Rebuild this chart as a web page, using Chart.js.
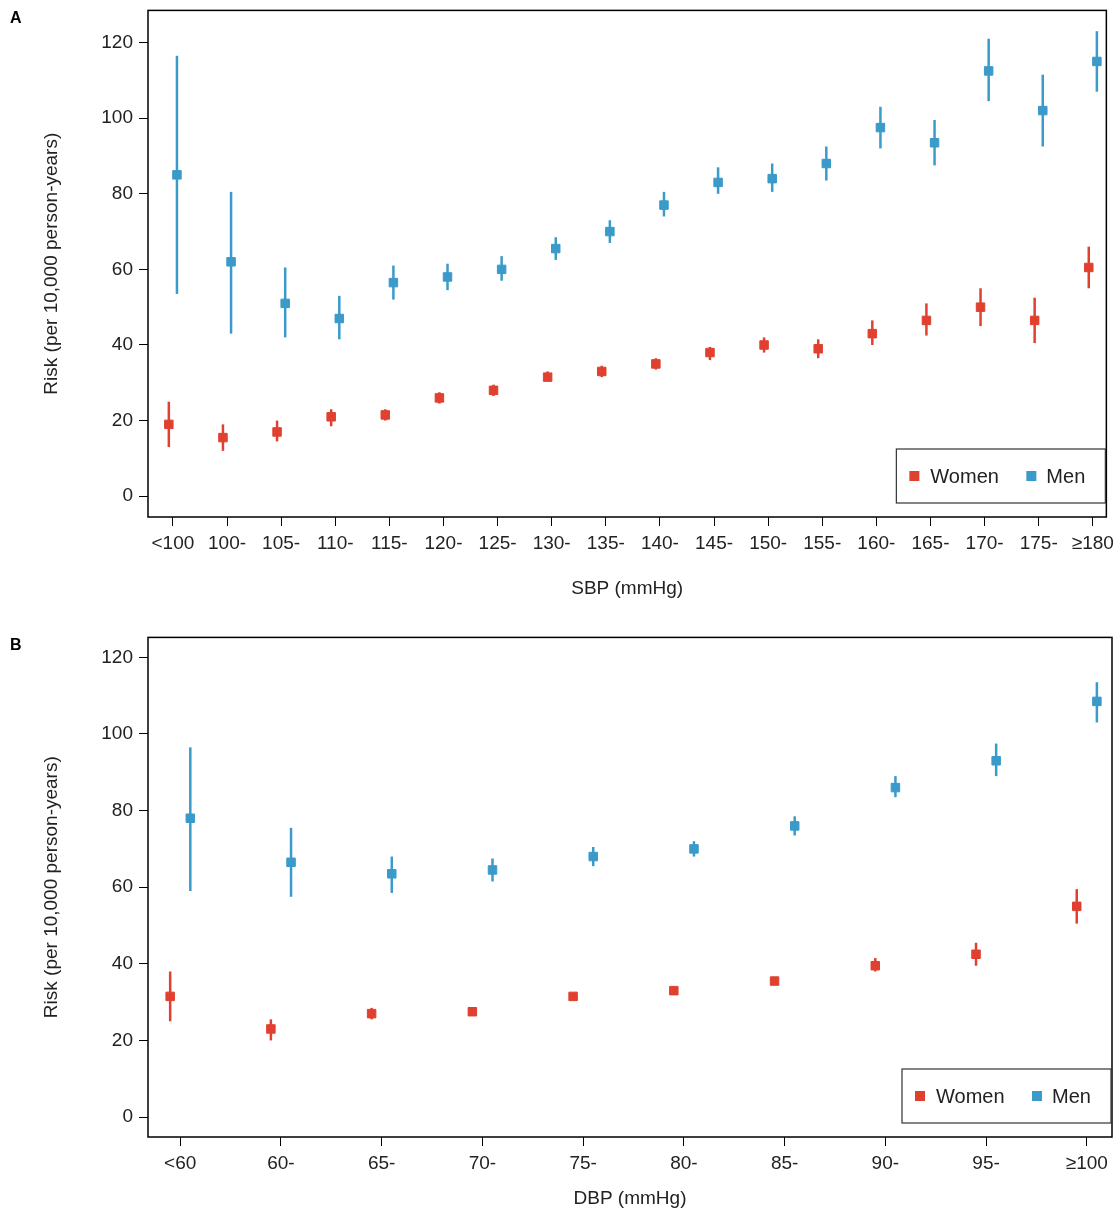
<!DOCTYPE html>
<html>
<head>
<meta charset="utf-8">
<script src="https://cdn.jsdelivr.net/npm/chart.js@4"></script>
<style>
body { margin:0; background:#fff; overflow:hidden; }
.panel { position:absolute; left:0; width:1120px; }
</style>
</head>
<body>
<div class="panel" style="top:-7px;height:617px"><canvas id="chartA"></canvas></div>
<div class="panel" style="top:620px;height:600px"><canvas id="chartB"></canvas></div>
<script>
// Panel A: SBP
const sbpLabels = ['<100','100-','105-','110-','115-','120-','125-','130-','135-','140-','145-','150-','155-','160-','165-','170-','175-','≥180'];
const sbpWomen = [19,15.5,17,21,21.5,26,28,31.5,33,35,38,40,39,43,46.5,50,46.5,60.5];
const sbpWomenLo = [13,12,14.5,18.5,20,24.5,26.5,30.5,31.5,33.5,36,38,36.5,40,42.5,45,40.5,55];
const sbpWomenHi = [25,19,20,23,23,27.5,29.5,33,34.5,36.5,39.5,42,41.5,46.5,51,55,52.5,66];
const sbpMen = [85,62,51,47,56.5,58,60,65.5,70,77,83,84,88,97.5,93.5,112.5,102,115];
const sbpMenLo = [53.5,43,42,41.5,52,54.5,57,62.5,67,74,80,80.5,83.5,92,87.5,104.5,92.5,107];
const sbpMenHi = [116.5,80.5,60.5,53,61,61.5,63.5,68.5,73,80.5,87,88,92.5,103,99.5,121,111.5,123];

// Panel B: DBP
const dbpLabels = ['<60','60-','65-','70-','75-','80-','85-','90-','95-','≥100'];
const dbpWomen = [31.5,23,27,27.5,31.5,33,35.5,39.5,42.5,55];
const dbpWomenLo = [25,20,25.5,26.5,30.5,32,34.5,38,39.5,50.5];
const dbpWomenHi = [38,25.5,28.5,28.5,32.5,34,36.5,41.5,45.5,59.5];
const dbpMen = [78,66.5,63.5,64.5,68,70,76,86,93,108.5];
const dbpMenLo = [59,57.5,58.5,61.5,65.5,68,73.5,83.5,89,103];
const dbpMenHi = [96.5,75.5,68,67.5,70.5,72,78.5,89,97.5,113.5];

const yTicks = [0,20,40,60,80,100,120];
const womenColor = '#e0402f';
const menColor = '#3a9ac9';

function pts(vals, lo, hi, off) {
    return vals.map((v, i) => ({ x: i + off, y: v, lo: lo[i], hi: hi[i] }));
}

const extras = {
    id: 'extras',
    beforeDatasetsDraw(chart) {
        const ctx = chart.ctx, xs = chart.scales.x, ys = chart.scales.y;
        ctx.save();
        ctx.lineWidth = 2.5;
        chart.data.datasets.forEach(ds => {
            ctx.strokeStyle = ds.backgroundColor;
            ds.data.forEach(p => {
                const px = xs.getPixelForValue(p.x);
                ctx.beginPath();
                ctx.moveTo(px, ys.getPixelForValue(p.lo));
                ctx.lineTo(px, ys.getPixelForValue(p.hi));
                ctx.stroke();
            });
        });
        ctx.restore();
    },
    afterDraw(chart, args, opts) {
        const ctx = chart.ctx, a = chart.chartArea;
        ctx.save();
        ctx.strokeStyle = '#000';
        ctx.lineWidth = 1.5;
        ctx.strokeRect(a.left, a.top, a.right - a.left, a.bottom - a.top);
        // panel letter
        ctx.fillStyle = '#000';
        ctx.font = 'bold 16px Arial, "Liberation Sans"';
        ctx.fillText(opts.letter, 10, a.top + 13);
        // legend box
        const bx = a.right - 210, by = a.bottom - 68, bw = 209, bh = 54;
        ctx.fillStyle = '#fff';
        ctx.fillRect(bx, by, bw, bh);
        ctx.strokeStyle = '#333';
        ctx.lineWidth = 1.2;
        ctx.strokeRect(bx, by, bw, bh);
        ctx.font = '20px Arial, "Liberation Sans"';
        ctx.textBaseline = 'middle';
        ctx.fillStyle = womenColor;
        ctx.fillRect(bx + 13, by + 22, 10, 10);
        ctx.fillStyle = '#222';
        ctx.fillText('Women', bx + 34, by + 28);
        ctx.fillStyle = menColor;
        ctx.fillRect(bx + 130, by + 22, 10, 10);
        ctx.fillStyle = '#222';
        ctx.fillText('Men', bx + 150, by + 28);
        ctx.restore();
    }
};

function makeChart(id, letter, labels, w, wl, wh, m, ml, mh, off, xmin, xmax, ymin, ymax, title, xH) {
    new Chart(document.getElementById(id), {
        type: 'scatter',
        data: {
            datasets: [
                { label: 'Women', data: pts(w, wl, wh, -off), backgroundColor: womenColor, borderColor: womenColor, pointStyle: 'rect', pointRadius: 6, pointHoverRadius: 6 },
                { label: 'Men', data: pts(m, ml, mh, off), backgroundColor: menColor, borderColor: menColor, pointStyle: 'rect', pointRadius: 6, pointHoverRadius: 6 }
            ]
        },
        options: {
            responsive: true, maintainAspectRatio: false, animation: false,
            layout: { padding: { left: 36, right: 8, top: 10, bottom: 6 } },
            plugins: { legend: { display: false }, tooltip: { enabled: false }, extras: { letter: letter } },
            scales: {
                x: {
                    type: 'linear', min: xmin, max: xmax,
                    afterBuildTicks: s => { s.ticks = labels.map((l, i) => ({ value: i })); },
                    afterFit: s => { s.height = xH; },
                    ticks: { callback: v => labels[v], color: '#222', font: { size: 19, family: 'Arial, "Liberation Sans"' }, maxRotation: 0, autoSkip: false, padding: 6 },
                    grid: { drawOnChartArea: false, tickLength: 9, color: '#000' },
                    border: { display: false },
                    title: { display: true, text: title, color: '#222', font: { size: 19, family: 'Arial, "Liberation Sans"' }, padding: { top: 8 } }
                },
                y: {
                    min: ymin, max: ymax,
                    afterBuildTicks: s => { s.ticks = yTicks.map(v => ({ value: v })); },
                    afterFit: s => { s.width = 112; },
                    ticks: { color: '#222', font: { size: 19, family: 'Arial, "Liberation Sans"' }, padding: 6 },
                    grid: { drawOnChartArea: false, tickLength: 9, color: '#000' },
                    border: { display: false },
                    title: { display: true, text: 'Risk (per 10,000 person-years)', color: '#222', font: { size: 19, family: 'Arial, "Liberation Sans"' }, padding: { bottom: 8 } }
                }
            }
        },
        plugins: [extras]
    });
}

makeChart('chartA', 'A', sbpLabels, sbpWomen, sbpWomenLo, sbpWomenHi, sbpMen, sbpMenLo, sbpMenHi, 0.075, -0.46, 17.25, -5.5, 128.5, 'SBP (mmHg)', 87);
makeChart('chartB', 'B', dbpLabels, dbpWomen, dbpWomenLo, dbpWomenHi, dbpMen, dbpMenLo, dbpMenHi, 0.1, -0.32, 9.25, -5.2, 125.2, 'DBP (mmHg)', 77);
</script>
</body>
</html>
